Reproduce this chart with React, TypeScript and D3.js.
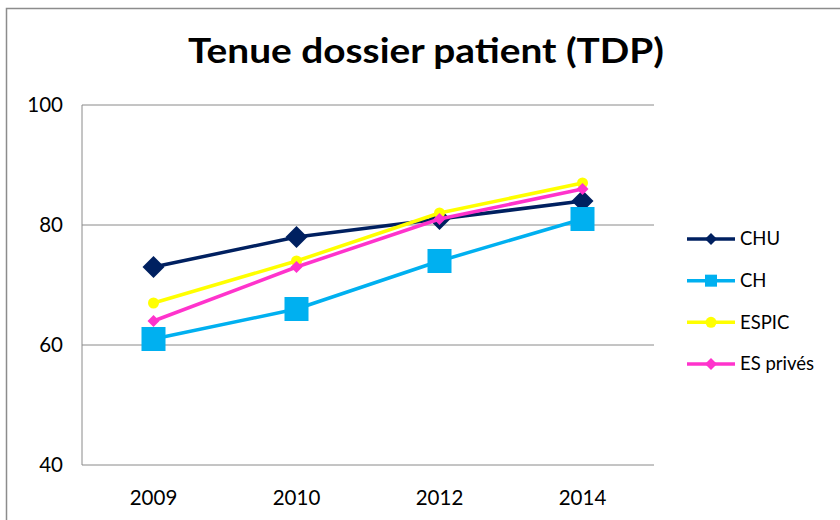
import React from "react";
import * as d3 from "d3";

const years = ["2009", "2010", "2012", "2014"];
const chu = [73, 78, 81, 84];
const ch = [61, 66, 74, 81];
const espic = [67, 74, 82, 87];
const esPrives = [64, 73, 81, 86];
const yTicks = [40, 60, 80, 100];
const seriesNames = ["CHU", "CH", "ESPIC", "ES privés"];

const W = 840, H = 520;
const plot = { left: 82, right: 654, top: 105, bottom: 465 };

type Series = { name: string; values: number[]; color: string; shape: string; size: number };

const series: Series[] = [
  { name: seriesNames[0], values: chu, color: "#002060", shape: "diamond", size: 22 },
  { name: seriesNames[1], values: ch, color: "#00B0F0", shape: "square", size: 24 },
  { name: seriesNames[2], values: espic, color: "#FFFF00", shape: "circle", size: 11 },
  { name: seriesNames[3], values: esPrives, color: "#FF33CC", shape: "diamond", size: 12 },
];

function Marker({ x, y, s }: { x: number; y: number; s: Series }) {
  const h = s.size / 2;
  if (s.shape === "square") return <rect x={x - h} y={y - h} width={s.size} height={s.size} fill={s.color} />;
  if (s.shape === "circle") return <circle cx={x} cy={y} r={h} fill={s.color} />;
  return <path d={`M${x},${y - h}L${x + h},${y}L${x},${y + h}L${x - h},${y}Z`} fill={s.color} />;
}

export default function App() {
  const x = d3.scaleBand<string>().domain(years).range([plot.left, plot.right]);
  const y = d3.scaleLinear().domain([40, 100]).range([plot.bottom, plot.top]);
  const cx = (yr: string) => (x(yr) as number) + x.bandwidth() / 2;
  const line = d3
    .line<number>()
    .x((_, i) => cx(years[i]))
    .y((v) => y(v));
  const font = "Lato, 'Liberation Sans', sans-serif";
  const legendY = d3.scalePoint<string>().domain(seriesNames).range([239, 364]);

  return (
    <div style={{ position: "fixed", left: 0, top: 0 }}>
      <svg width={W} height={H} style={{ display: "block", background: "#fff" }}>
        <rect x={6.5} y={8.5} width={W} height={H} fill="#fff" stroke="#8c8c8c" strokeWidth={1.5} />
        <text
          x={188}
          y={63}
          textLength={476}
          lengthAdjust="spacingAndGlyphs"
          fontFamily={font}
          fontWeight="bold"
          fontSize={35}
          fill="#000"
        >
          Tenue dossier patient (TDP)
        </text>
        {yTicks.map((t) => (
          <g key={t}>
            <line x1={plot.left} x2={plot.right} y1={y(t)} y2={y(t)} stroke="#8a8a8a" strokeWidth={1} />
            <text x={63} y={y(t)} dy="0.35em" textAnchor="end" fontFamily={font} fontSize={20.5} fill="#000">
              {t}
            </text>
          </g>
        ))}
        <line x1={plot.left} x2={plot.left} y1={plot.top} y2={plot.bottom} stroke="#8a8a8a" strokeWidth={1} />
        {years.map((yr) => (
          <text key={yr} x={cx(yr)} y={505} textAnchor="middle" fontFamily={font} fontSize={20.5} fill="#000">
            {yr}
          </text>
        ))}
        {series.map((s) => (
          <g key={s.name}>
            <path d={line(s.values) || ""} fill="none" stroke={s.color} strokeWidth={3.5} strokeLinejoin="round" />
            {s.values.map((v, i) => (
              <Marker key={i} x={cx(years[i])} y={y(v)} s={s} />
            ))}
          </g>
        ))}
        {series.map((s) => {
          const ly = legendY(s.name) as number;
          const ls: Series = { ...s, size: Math.min(s.size, 12) };
          return (
            <g key={"lg" + s.name}>
              <line x1={687} x2={735} y1={ly} y2={ly} stroke={s.color} strokeWidth={3.5} />
              <Marker x={711} y={ly} s={ls} />
              <text x={740} y={ly} dy="0.35em" fontFamily={font} fontSize={18.5} fill="#000">
                {s.name}
              </text>
            </g>
          );
        })}
      </svg>
    </div>
  );
}
